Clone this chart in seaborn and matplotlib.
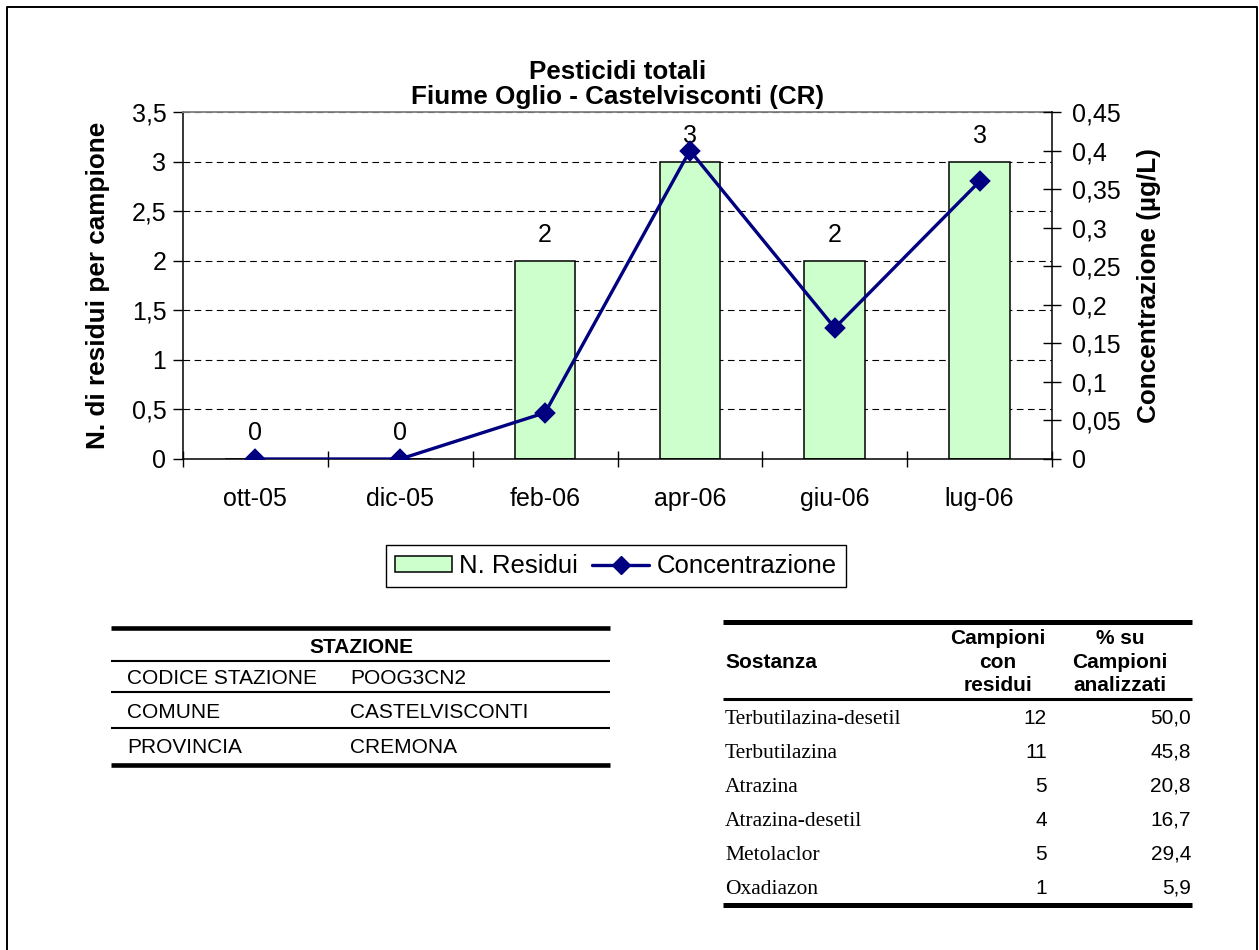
import matplotlib
matplotlib.use("Agg")
import matplotlib.pyplot as plt
from matplotlib.lines import Line2D
from matplotlib.patches import Patch
import seaborn as sns

sns.set_theme(style="white", rc={"text.color": "black", "axes.labelcolor": "black",
                                 "xtick.color": "black", "ytick.color": "black"})
plt.rcParams['font.family'] = ['Liberation Sans', 'DejaVu Sans']

# dati del grafico
mesi = ["ott-05", "dic-05", "feb-06", "apr-06", "giu-06", "lug-06"]
n_residui = [0, 0, 2, 3, 2, 3]
concentrazione = [0, 0, 0.06, 0.40, 0.17, 0.36]

tick_sx = [0, 0.5, 1, 1.5, 2, 2.5, 3, 3.5]
lab_sx = ["0", "0,5", "1", "1,5", "2", "2,5", "3", "3,5"]
tick_dx = [0, 0.05, 0.1, 0.15, 0.2, 0.25, 0.3, 0.35, 0.4, 0.45]
lab_dx = ["0", "0,05", "0,1", "0,15", "0,2", "0,25", "0,3", "0,35", "0,4", "0,45"]

# tabelle
stazione_campi = ["CODICE STAZIONE", "COMUNE", "PROVINCIA"]
stazione_valori = ["POOG3CN2", "CASTELVISCONTI", "CREMONA"]

sostanze = ["Terbutilazina-desetil", "Terbutilazina", "Atrazina",
            "Atrazina-desetil", "Metolaclor", "Oxadiazon"]
campioni = [12, 11, 5, 4, 5, 1]
percentuali = [50.0, 45.8, 20.8, 16.7, 29.4, 5.9]

VERDE = "#CCFFCC"
BLU = "#000080"
W, H = 1259, 950

fig = plt.figure(figsize=(W / 100, H / 100), dpi=100)
ax = fig.add_axes([183 / W, 1 - 459 / H, (1052 - 183) / W, (459 - 112) / H])

sns.barplot(x=mesi, y=n_residui, ax=ax, color=VERDE, saturation=1,
            edgecolor="black", linewidth=1.1, width=0.42)
ax.bar_label(ax.containers[0], labels=[str(v) for v in n_residui],
             padding=10, fontsize=18)

ax.set_ylim(0, 3.5)
ax.set_yticks(tick_sx)
ax.set_yticklabels(lab_sx)
ax.set_axisbelow(True)
ax.yaxis.grid(True, linestyle=(0, (6, 4)), color="black", linewidth=0.8)
ax.set_xticks([i - 0.5 for i in range(len(mesi) + 1)], minor=True)

ax2 = ax.twinx()
sns.pointplot(x=mesi, y=concentrazione, ax=ax2, color=BLU, markers="D",
              errorbar=None, markersize=9, linewidth=2.4)
ax2.set_ylim(0, 0.45)
ax2.set_yticks(tick_dx)
ax2.set_yticklabels(lab_dx)
ax2.set_xlim(-0.5, len(mesi) - 0.5)

for s in ["left", "bottom", "top"]:
    ax2.spines[s].set_visible(False)
ax.spines["right"].set_visible(False)
ax.spines["top"].set_color("#808080")
ax.spines["top"].set_linewidth(1.3)
for s in ["left", "bottom"]:
    ax.spines[s].set_color("black")
    ax.spines[s].set_linewidth(1.1)
ax2.spines["right"].set_color("black")
ax2.spines["right"].set_linewidth(1.1)

ax.tick_params(axis="y", left=True, direction="out", length=7, width=1,
               pad=5, labelsize=18)
ax.tick_params(axis="x", which="major", length=0, pad=20, labelsize=18)
ax.tick_params(axis="x", which="minor", bottom=True, direction="inout",
               length=11, width=1, color="black")
ax2.tick_params(axis="y", right=True, direction="inout", length=13, width=1,
                pad=8, labelsize=18)

ax.set_xlabel("")
ax.set_ylabel("N. di residui per campione", fontsize=18.8, fontweight="bold")
ax.yaxis.set_label_coords(-0.084, 0.5)
ax2.set_ylabel("Concentrazione (µg/L)", fontsize=18.8, fontweight="bold")
ax2.yaxis.set_label_coords(1.098, 0.5)
ax.set_title("Pesticidi totali\nFiume Oglio - Castelvisconti (CR)",
             fontsize=18.7, fontweight="bold", pad=6, linespacing=1.05)

handles = [Patch(facecolor=VERDE, edgecolor="black", linewidth=1.1, label="N. Residui"),
           Line2D([], [], color=BLU, marker="D", markersize=9, linewidth=2.4,
                  label="Concentrazione")]
leg = fig.legend(handles=handles, loc="center", bbox_to_anchor=(616 / W, 1 - 566 / H),
                 ncol=2, fontsize=18.5, frameon=True, fancybox=False, edgecolor="black",
                 framealpha=1, handlelength=2.2, handleheight=0.55, handletextpad=0.3,
                 columnspacing=0.55, borderpad=0.35)
leg.get_frame().set_linewidth(1.0)

# livello in pixel per bordo e tabelle
tab = fig.add_axes([0, 0, 1, 1])
tab.set_xlim(0, W)
tab.set_ylim(H, 0)
tab.axis("off")
tab.patch.set_alpha(0)


def riga(y, x0, x1, lw):
    tab.plot([x0, x1], [y, y], color="black", lw=lw, solid_capstyle="butt", clip_on=False)


# bordo esterno
tab.plot([7, 7, 1257.5, 1257.5], [H + 5, 7, 7, H + 5], color="black", lw=1.4, clip_on=False)

# tabella stazione
riga(628, 111, 610, 3.3)
for y in [661, 692, 728]:
    riga(y, 111, 610, 1.5)
riga(765, 111, 610, 3.3)
tab.text(361, 653, "STAZIONE", ha="center", va="baseline", fontsize=15, fontweight="bold")
for i, (c, v) in enumerate(zip(stazione_campi, stazione_valori)):
    y = 684 + i * 34.5
    tab.text(127, y, c, ha="left", va="baseline", fontsize=15)
    tab.text(350, y, v, ha="left", va="baseline", fontsize=15)

# tabella sostanze
riga(622, 723, 1192, 3.6)
riga(699, 723, 1192, 2.2)
riga(905, 723, 1192, 3.6)
tab.text(725, 662, "Sostanza", ha="left", va="center", fontsize=15, fontweight="bold")
tab.text(998, 662, "Campioni\ncon\nresidui", ha="center", va="center", fontsize=15,
         fontweight="bold", linespacing=1.3)
tab.text(1120, 662, "% su\nCampioni\nanalizzati", ha="center", va="center", fontsize=15,
         fontweight="bold", linespacing=1.3)
for i, (s, c, p) in enumerate(zip(sostanze, campioni, percentuali)):
    y = 723.5 + i * 34
    tab.text(725, y, s, ha="left", va="baseline", fontsize=15.5, family="Liberation Serif")
    tab.text(1047, y, str(c), ha="right", va="baseline", fontsize=15)
    tab.text(1191, y, f"{p:.1f}".replace(".", ","), ha="right", va="baseline", fontsize=15)

fig.savefig("out.png", dpi=100)
